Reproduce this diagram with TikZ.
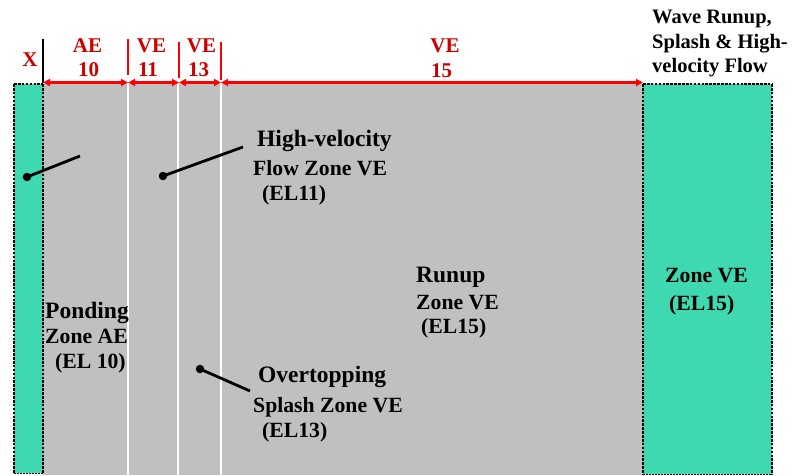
\documentclass[tikz,border=0pt]{standalone}
\usepackage{fontspec}
\setmainfont{Liberation Serif}
\usetikzlibrary{arrows.meta}
\definecolor{zgray}{RGB}{192,192,192}
\definecolor{zteal}{RGB}{62,216,177}
\definecolor{lblred}{RGB}{205,0,0}
\begin{document}
\begin{tikzpicture}[x=1pt,y=-1pt,
  txt/.style={anchor=base west,inner sep=0pt,font=\bfseries\fontsize{21.7}{24}\selectfont},
  big/.style={txt,font=\bfseries\fontsize{23.5}{26}\selectfont},
  hdr/.style={txt,font=\bfseries\fontsize{20.5}{24}\selectfont},
  rlab/.style={anchor=base,inner sep=0pt,text=lblred,font=\bfseries\fontsize{21}{24}\selectfont},
  dotborder/.style={draw=black,line width=2.6pt,dash pattern=on 2.6pt off 1.3pt},
  divider/.style={draw=white,line width=2pt},
  dim/.style={draw=red,line width=2.6pt,{Triangle[length=7pt,width=7pt]}-{Triangle[length=7pt,width=7pt]}},
  tick/.style={draw=red,line width=2pt},
  leader/.style={draw=black,line width=2.8pt},
  dot/.style={circle,fill=black,inner sep=0pt,minimum size=8.5pt}]
\useasboundingbox (0,0) rectangle (793,475);
% zones
\fill[zgray] (43,84) rectangle (643,475);
\draw[divider] (128,84) -- (128,475);
\draw[divider] (178,84) -- (178,475);
\draw[divider] (221,84) -- (221,475);
\fill[zteal] (14,84) rectangle (43,473);
\draw[dotborder] (14,84) -- (14,473);
\draw[dotborder] (43,84) -- (43,473);
\draw[dotborder] (14,84) -- (43,84);
\draw[black,line width=1pt,dash pattern=on 2pt off 1pt] (14,473.5) -- (43,473.5);
\fill[zteal] (643,84) rectangle (772,474);
\draw[dotborder] (643,84) -- (643,475);
\draw[dotborder] (772,84) -- (772,475);
\draw[dotborder] (643,84) -- (772,84);
\draw[black,line width=1pt,dash pattern=on 2pt off 1pt] (643,474.5) -- (772,474.5);
% top marks
\coordinate (d0) at (43,82.5);
\coordinate (d1) at (128,82.5);
\coordinate (d2) at (179,82.5);
\coordinate (d3) at (221,82.5);
\coordinate (d4) at (643,82.5);
\draw[black,line width=2pt] (43,39) -- (d0);
\draw[tick] (128,39) -- (128,75);
\draw[tick] (179,42) -- (179,78);
\draw[tick] (221,42) -- (221,80);
\draw[dim] (d0) -- (d1);
\draw[dim] (d1) -- (d2);
\draw[dim] (d2) -- (d3);
\draw[dim] (d3) -- (d4);
% red labels
\node[rlab] (x) at (30,66) {X};
\node[rlab] (ae) at (87.5,52) {AE};
\node[rlab] (ae10) at (88.5,76) {10};
\node[rlab] (ve11a) at (151.5,52) {VE};
\node[rlab] (ve11b) at (148,76) {11};
\node[rlab] (ve13a) at (201.5,52) {VE};
\node[rlab] (ve13b) at (198.5,76) {13};
\node[rlab] (ve15a) at (445,52) {VE};
\node[rlab] (ve15b) at (441.5,77) {15};
% header
\node[hdr] (h1) at (652,23) {Wave Runup,};
\node[hdr] (h2) at (652,48) {Splash \& High-};
\node[hdr] (h3) at (652,72) {velocity Flow};
% texts
\node[big] (hv1) at (257,146) {High-velocity};
\node[txt] (hv2) at (253,175) {Flow Zone VE};
\node[txt] (hv3) at (262,200) {(EL11)};
\node[big] (ov1) at (258,382) {Overtopping};
\node[txt] (ov2) at (253,412) {Splash Zone VE};
\node[txt] (ov3) at (262,437) {(EL13)};
\node[big] (ru1) at (416,282) {Runup};
\node[txt] (ru2) at (416,309) {Zone VE};
\node[txt] (ru3) at (421,333) {(EL15)};
\node[txt] (rz1) at (665,282) {Zone VE};
\node[txt] (rz2) at (669,310) {(EL15)};
\node[big] (po1) at (45,318) {Ponding};
\node[txt] (po2) at (45,343) {Zone AE};
\node[txt] (po3) at (55,368) {(EL 10)};
% leaders
\node[dot] (p1) at (27,177) {};
\coordinate (e1) at (80,156);
\draw[leader] (p1.center) -- (e1);
\node[dot] (p2) at (163,176) {};
\coordinate (e2) at (243,147);
\draw[leader] (p2.center) -- (e2);
\node[dot] (p3) at (200,369) {};
\coordinate (e3) at (250,391);
\draw[leader] (p3.center) -- (e3);
\end{tikzpicture}
\end{document}
